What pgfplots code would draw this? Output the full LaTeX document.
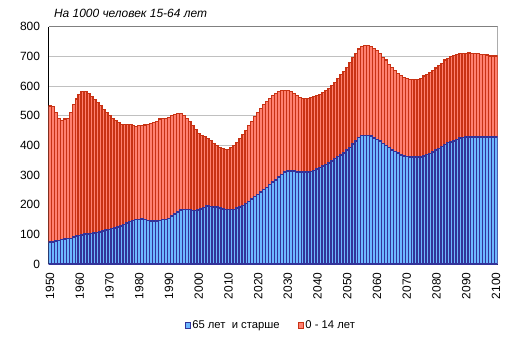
\documentclass[border=0pt]{standalone}
\usepackage{pgfplots}
\pgfplotsset{compat=1.18}
\usepackage{pgfplotstable}
\usepackage{fontspec}
\setmainfont{Liberation Sans}
\definecolor{bluefill}{HTML}{6CB8FF}
\definecolor{bluedraw}{HTML}{333399}
\definecolor{redfill}{HTML}{FF8070}
\definecolor{reddraw}{HTML}{C83214}
\definecolor{gridgray}{HTML}{C0C0C0}
\pgfplotstableread{
year old young
1950 75 458
1951 75 456
1952 77 434
1953 80 411
1954 82 402
1955 84 404
1956 86 405
1957 86 425
1958 91 447
1959 94 463
1960 96 475
1961 97 484
1962 101 480
1963 101 474
1964 103 462
1965 104 451
1966 106 439
1967 108 427
1968 112 409
1969 114 397
1970 116 385
1971 119 372
1972 122 362
1973 125 352
1974 128 343
1975 134 337
1976 139 332
1977 144 327
1978 147 320
1979 150 314
1980 150 317
1981 152 315
1982 150 319
1983 147 324
1984 145 329
1985 145 332
1986 145 336
1987 147 341
1988 150 341
1989 150 341
1990 154 340
1991 161 340
1992 168 336
1993 175 333
1994 182 326
1995 184 317
1996 184 307
1997 183 298
1998 181 286
1999 180 274
2000 182 258
2001 185 249
2002 190 240
2003 196 227
2004 194 223
2005 192 215
2006 192 208
2007 189 204
2008 185 205
2009 184 202
2010 184 202
2011 184 209
2012 184 216
2013 188 222
2014 192 231
2015 198 239
2016 204 246
2017 211 256
2018 219 262
2019 227 271
2020 235 276
2021 243 282
2022 251 287
2023 258 290
2024 268 290
2025 276 292
2026 284 291
2027 293 289
2028 302 283
2029 310 275
2030 314 271
2031 314 268
2032 313 262
2033 311 257
2034 311 251
2035 311 247
2036 311 247
2037 311 247
2038 312 250
2039 316 249
2040 320 248
2041 325 247
2042 330 249
2043 335 250
2044 340 252
2045 348 254
2046 356 256
2047 363 263
2048 367 272
2049 375 274
2050 385 278
2051 393 287
2052 404 293
2053 415 295
2054 427 297
2055 434 300
2056 434 303
2057 434 303
2058 432 302
2059 424 303
2060 420 300
2061 414 296
2062 407 290
2063 400 287
2064 392 281
2065 384 279
2066 380 273
2067 374 269
2068 368 268
2069 364 265
2070 362 264
2071 360 262
2072 360 262
2073 360 262
2074 360 262
2075 360 266
2076 364 269
2077 370 269
2078 373 273
2079 378 275
2080 384 276
2081 389 281
2082 396 280
2083 403 284
2084 409 284
2085 411 289
2086 415 288
2087 419 288
2088 424 285
2089 427 283
2090 429 281
2091 429 283
2092 429 281
2093 429 281
2094 429 280
2095 429 278
2096 429 278
2097 429 275
2098 429 272
2099 429 272
2100 429 272
}\datatable
\begin{document}
\begin{tikzpicture}
\useasboundingbox (-48.5bp,-78bp) rectangle (462.5bp,264bp);
\begin{axis}[
  at={(0,0)}, anchor=south west,
  scale only axis,
  width=449bp, height=237.3bp,
  xmin=1949.5, xmax=2100.5,
  ymin=0, ymax=800,
  ytick={0,100,...,800},
  xtick={1950,1960,...,2100},
  axis x line*=bottom,
  axis y line*=left,
  axis line style={black, line width=0.8bp},
  major tick length=0pt,
  ymajorgrids,
  grid style={gridgray, line width=0.8bp},
  tick label style={font=\fontsize{12}{14}\selectfont},
  /pgf/number format/assume math mode=true,
  /pgf/number format/1000 sep={},
  xticklabel style={rotate=90, anchor=east},
  xticklabel shift=5bp,
  yticklabel shift=5bp,
  ybar stacked,
  bar width=1,
  legend style={at={(0.495,-0.257)}, anchor=center, draw=none, fill=none,
    legend columns=2, font=\fontsize{11.3}{13}\selectfont,
    inner sep=0pt,
    /tikz/every even column/.append style={column sep=16bp}},
  legend image code/.code={\draw[#1, line width=0.5bp] (0bp,-2.8bp) rectangle (5.2bp,2.8bp);},
]
\addplot[fill=bluefill, draw=bluedraw, line width=1.5bp] table[x=year, y=old] {\datatable};
\addlegendentry{65 лет\ \ и старше}
\addplot[fill=redfill, draw=reddraw, line width=1.5bp] table[x=year, y=young] {\datatable};
\addlegendentry{0 - 14 лет}
\draw[gray, line width=0.8bp] (rel axis cs:0,1) -- (rel axis cs:1,1) -- (rel axis cs:1,0);
\end{axis}
\node[anchor=west, font=\fontsize{12}{14}\selectfont\itshape] at (2bp,251bp) {На 1000 человек 15-64 лет};
\end{tikzpicture}
\end{document}
